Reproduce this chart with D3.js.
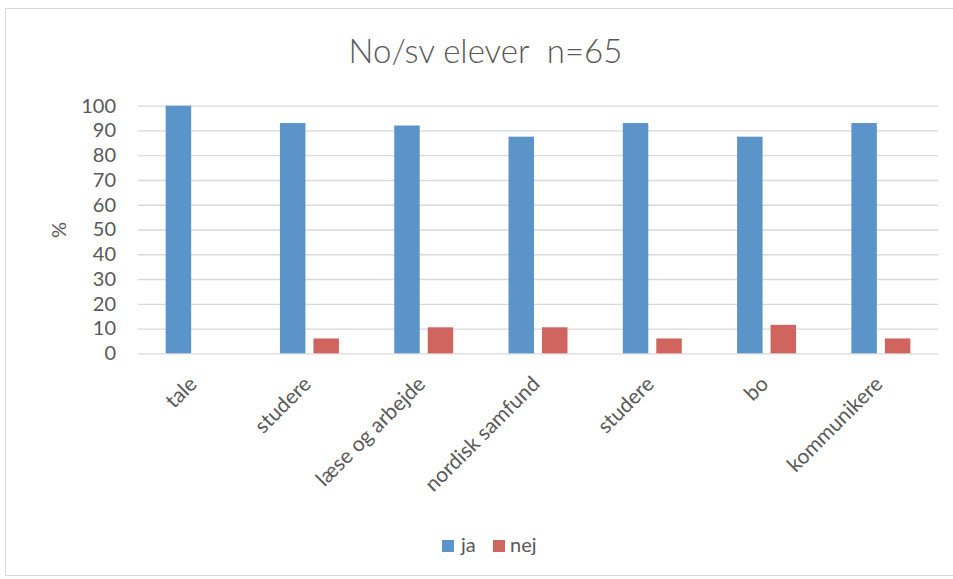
<!DOCTYPE html>
<html>
<head>
<meta charset="utf-8">
<script src="https://cdn.jsdelivr.net/npm/d3@7"></script>
<style>
  html, body { margin: 0; padding: 0; background: #fff; }
  svg { display: block; font-family: Lato, "Open Sans", sans-serif; }
</style>
</head>
<body>
<svg id="chart" width="953" height="579"></svg>
<script>
const title = "No/sv elever  n=65";
const categories = ["tale", "studere", "læse og arbejde", "nordisk samfund", "studere", "bo", "kommunikere"];
const seriesNames = ["ja", "nej"];
const jaValues = [100, 93, 92, 87.5, 93, 87.5, 93];
const nejValues = [0, 6, 10.5, 10.5, 6, 11.5, 6];
const yTicks = [0, 10, 20, 30, 40, 50, 60, 70, 80, 90, 100];
const yLabel = "%";
const colors = ["#5b94c8", "#cf655e"];

const svg = d3.select("#chart");
const textColor = "#595959";

// chart frame
svg.append("rect")
  .attr("x", 5.5).attr("y", 8.5)
  .attr("width", 960).attr("height", 567)
  .attr("fill", "#fff").attr("stroke", "#d9d9d9").attr("stroke-width", 1);

const plotLeft = 138, plotRight = 938, plotTop = 105.7, plotBottom = 353.3;

const x0 = d3.scaleBand()
  .domain(d3.range(categories.length))
  .range([plotLeft, plotRight])
  .paddingInner(0.484)
  .paddingOuter(0.242);

const x1 = d3.scaleBand()
  .domain(seriesNames)
  .range([0, x0.bandwidth()])
  .paddingInner(0.239)
  .paddingOuter(0);

const y = d3.scaleLinear().domain([0, 100]).range([plotBottom, plotTop]);

// gridlines
const yAxis = d3.axisLeft(y).tickValues(yTicks).tickSize(-(plotRight - plotLeft)).tickPadding(22);
const gy = svg.append("g").attr("transform", `translate(${plotLeft},0)`).call(yAxis);
gy.select(".domain").remove();
gy.selectAll(".tick line").attr("stroke", "#d9d9d9").attr("stroke-width", 1.3);
gy.selectAll(".tick text")
  .attr("fill", textColor)
  .style("font-size", "20px")
  .style("font-family", "Lato, sans-serif");

// y label
svg.append("text")
  .attr("transform", "translate(66,230) rotate(-90)")
  .attr("text-anchor", "middle")
  .attr("fill", textColor)
  .style("font-size", "20px")
  .text(yLabel);

// bars
const data = categories.map((c, i) => ({ i, values: [jaValues[i], nejValues[i]] }));
const groups = svg.append("g").selectAll("g")
  .data(data).join("g")
  .attr("transform", d => `translate(${x0(d.i)},0)`);
groups.selectAll("rect")
  .data(d => d.values.map((v, k) => ({ key: seriesNames[k], v, k })))
  .join("rect")
  .attr("x", d => x1(d.key))
  .attr("width", x1.bandwidth())
  .attr("y", d => y(d.v))
  .attr("height", d => y(0) - y(d.v))
  .attr("fill", d => colors[d.k]);

// x labels
const xAxis = d3.axisBottom(x0).tickFormat(i => categories[i]).tickSize(0).tickPadding(0);
const gx = svg.append("g").attr("transform", `translate(0,${plotBottom})`).call(xAxis);
gx.select(".domain").remove();
gx.selectAll(".tick text")
  .attr("text-anchor", "end")
  .attr("dy", null)
  .attr("y", 0)
  .attr("transform", "translate(3,32) rotate(-45)")
  .attr("fill", textColor)
  .style("font-size", "21px")
  .style("font-family", "Lato, sans-serif");

// title
svg.append("text")
  .attr("x", 485.5).attr("y", 63)
  .attr("text-anchor", "middle")
  .attr("fill", textColor)
  .style("font-size", "33px")
  .style("font-weight", "300")
  .style("white-space", "pre")
  .text(title);

// legend
const legendItems = [{ name: "ja", sx: 442, tx: 461 }, { name: "nej", sx: 493, tx: 510 }];
const lg = svg.append("g");
legendItems.forEach((it, k) => {
  lg.append("rect").attr("x", it.sx).attr("y", 540).attr("width", 12).attr("height", 12).attr("fill", colors[k]);
  lg.append("text").attr("x", it.tx).attr("y", 552)
    .attr("fill", textColor).style("font-size", "20px").text(it.name);
});
</script>
</body>
</html>
